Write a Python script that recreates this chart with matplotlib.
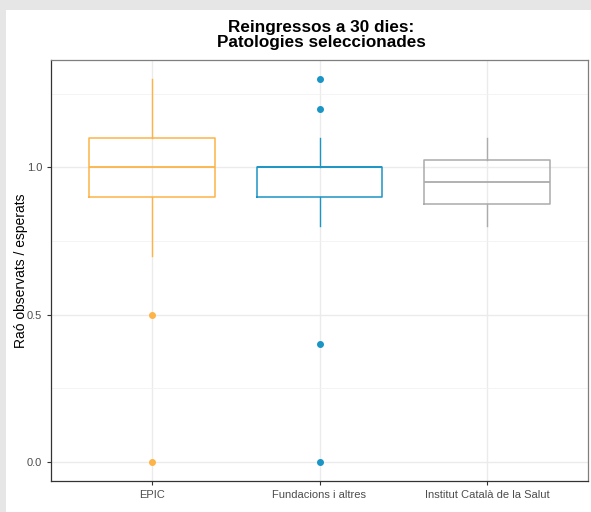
import matplotlib.pyplot as plt
from matplotlib.patches import Rectangle

plt.rcParams['font.family'] = ['Liberation Sans', 'DejaVu Sans']

# Summary statistics per group (ratio observed / expected)
groups = ['EPIC', 'Fundacions i altres', 'Institut Català de la Salut']
medians = [1.0, 1.0, 0.95]
q1 = [0.9, 0.9, 0.875]
q3 = [1.1, 1.0, 1.025]
whisk_lo = [0.7, 0.8, 0.8]
whisk_hi = [1.3, 1.1, 1.1]
outliers = [[0.5, 0.0], [1.3, 1.2, 0.4, 0.0], []]
colors = ['#FDB347', '#1B95C4', '#ABABAB']

W, H = 591, 512
fig = plt.figure(figsize=(W / 100, H / 100), dpi=100, facecolor='#E6E6E6')
fig.patches.append(Rectangle((6 / W, 0), 1, 1 - 10 / H, transform=fig.transFigure,
                             facecolor='white', edgecolor='none', zorder=-1))

ax = fig.add_axes([51 / W, 1 - 481 / H, (588 - 51) / W, (481 - 60) / H])
ax.set_zorder(1)

stats = []
for i, g in enumerate(groups):
    stats.append(dict(label=g, med=medians[i], q1=q1[i], q3=q3[i],
                      whislo=whisk_lo[i], whishi=whisk_hi[i], fliers=outliers[i]))

pos = [1, 2, 3]
for i, s in enumerate(stats):
    c = colors[i]
    ax.bxp([s], positions=[pos[i]], widths=0.75, showcaps=False, patch_artist=False,
           boxprops=dict(color=c, linewidth=1.1),
           medianprops=dict(color=c, linewidth=1.3),
           whiskerprops=dict(color=c, linewidth=1.0),
           flierprops=dict(marker='o', markerfacecolor=c, markeredgecolor=c,
                           markersize=4, linestyle='none'),
           zorder=3)

ax.set_xlim(0.4, 3.6)
ax.set_ylim(-0.065, 1.365)
ax.set_xticks(pos)
ax.set_xticklabels(groups)
ax.set_yticks([0.0, 0.5, 1.0])
ax.set_yticklabels(['0.0', '0.5', '1.0'])
ax.set_yticks([0.25, 0.75, 1.25], minor=True)

ax.grid(True, which='major', color='#EBEBEB', linewidth=1.0, zorder=0)
ax.grid(True, which='minor', axis='y', color='#F2F2F2', linewidth=0.6, zorder=0)
ax.set_axisbelow(True)

for sp in ax.spines.values():
    sp.set_color('#333333')
    sp.set_linewidth(0.9)
ax.spines['top'].set_color('#7F7F7F')
ax.spines['right'].set_color('#7F7F7F')

ax.tick_params(axis='both', which='major', colors='#333333', labelcolor='#4D4D4D',
               labelsize=8, length=3, width=0.8)
ax.tick_params(axis='y', which='minor', length=0)

ax.set_ylabel('Raó observats / esperats', fontsize=10, color='black')
ax.yaxis.set_label_coords(-23 / (588 - 51), 0.5)

fig.text(321 / W, 1 - 35 / H, 'Reingressos a 30 dies:\nPatologies seleccionades',
         ha='center', va='center', fontsize=12.3, fontweight='bold', linespacing=1.0)

fig.savefig('out.png', dpi=100, facecolor=fig.get_facecolor())
